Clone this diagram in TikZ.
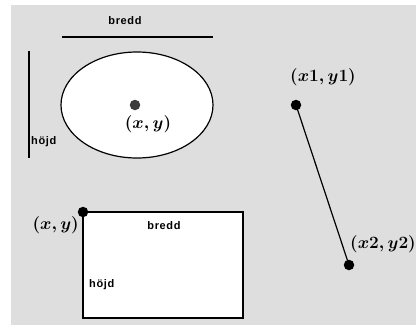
\documentclass[tikz,border=0pt]{standalone}
\usepackage{fontspec}
\usepackage{bm}
\newfontfamily\lblfont[LetterSpace=6]{Liberation Sans Bold}
\begin{document}
\begin{tikzpicture}[x=1pt,y=-1pt,
  lbl/.style={font=\lblfont\fontsize{11}{12}\selectfont, inner sep=0pt},
  mlbl/.style={font=\fontsize{17}{18}\selectfont\boldmath, inner sep=0pt},
  shapeline/.style={draw=black, line width=1.2pt},
  dotpt/.style={circle, fill=black, inner sep=0pt, minimum size=10.5pt}]
\useasboundingbox (0,0) rectangle (416,325);
\fill[white] (0,0) rectangle (416,325);
\fill[fill={rgb,255:red,222;green,222;blue,222}] (11,5) rectangle (416,325);
% ellipse group
\coordinate (bl) at (62,37);
\coordinate (br) at (213,37);
\draw[shapeline] (bl) -- (br);
\node[lbl] (bredd1) at (125,21) {bredd};
\coordinate (hl) at (29,51);
\coordinate (hr) at (29,158);
\draw[shapeline] (hl) -- (hr);
\node[lbl, anchor=west] (hojd1) at (31,142) {höjd};
\draw[shapeline, fill=white] (137,105) ellipse [x radius=76, y radius=53];
\node[dotpt, fill={rgb,255:red,60;green,60;blue,60}] (c) at (135,105) {};
\node[mlbl] (clbl) at (148,124) {$(x,y)$};
% line
\node[dotpt] (p1) at (296,105) {};
\node[dotpt] (p2) at (349,265) {};
\draw[shapeline] (p1.center) -- (p2.center);
\node[mlbl] (p1lbl) at (323,77) {$(x1,y1)$};
\node[mlbl] (p2lbl) at (383,244) {$(x2,y2)$};
% rectangle
\draw[shapeline, fill=white] (83,212) rectangle (243,318);
\node[dotpt] (r) at (83,212) {};
\node[mlbl, anchor=east] (rlbl) at (79,225) {$(x,y)$};
\node[lbl] (bredd2) at (164,226) {bredd};
\node[lbl, anchor=west] (hojd2) at (89,285) {höjd};
\end{tikzpicture}
\end{document}
